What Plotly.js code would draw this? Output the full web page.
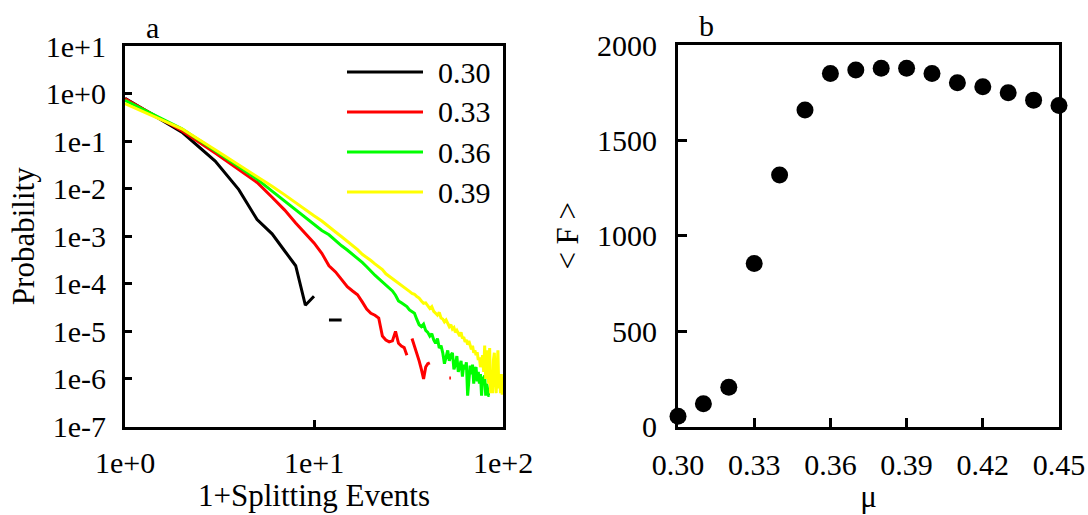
<!DOCTYPE html>
<html><head><meta charset="utf-8">
<script src="https://cdn.plot.ly/plotly-3.0.1.min.js"></script>
<style>html,body{margin:0;padding:0;background:#fff}#chart{width:1088px;height:515px}</style>
</head><body><div id="chart"></div>
<script>
// ---- Panel a: probability vs 1+splitting events (values stored as log10 of probability) ----
const seriesNames = ['0.30', '0.33', '0.36', '0.39'];
const seriesColors = ['#000000', '#ff0000', '#00ff00', '#ffff00'];

const logP_030 = [-0.10,-0.81,-1.42,-2.02,-2.65,-2.95,-3.31,-3.62,-4.45,-4.26,
  null,-4.76,-4.76,-4.76];

const logP_033 = [-0.11,-0.78,-1.25,-1.60,-1.87,-2.18,-2.45,-2.72,-2.95,-3.14,
  -3.36,-3.62,-3.75,-3.91,-4.06,-4.15,-4.23,-4.38,-4.53,-4.62,
  -4.66,-4.72,-5.10,-5.18,-5.22,-5.20,-5.00,-5.25,-5.31,-5.34,
  -5.50,null,-5.15,-5.30,-5.45,-5.62,-5.80,-6.00,-5.75,-5.68,
  -5.66,null,null,null,null,null,null,null,null,null,
  null,-5.98,-5.98];

const logP_036 = [-0.14,-0.74,-1.20,-1.53,-1.80,-2.05,-2.26,-2.45,-2.61,-2.75,
  -2.88,-2.97,-3.10,-3.20,-3.29,-3.38,-3.46,-3.55,-3.64,-3.74,
  -3.82,-3.89,-3.96,-4.02,-4.09,-4.15,-4.24,-4.36,-4.40,-4.45,
  -4.48,-4.55,-4.58,-4.62,-4.75,-4.86,-4.90,-4.85,-4.98,-5.02,
  -5.10,-5.05,-5.18,-5.25,-5.15,-5.35,-5.30,-5.45,-5.68,-5.50,
  -5.40,-5.62,-5.50,-5.45,-5.80,-5.70,-5.52,-5.85,-5.75,-5.62,
  -5.95,-5.70,-5.80,-5.65,-6.35,-6.02,-5.72,-5.90,-5.70,-6.10,
  -5.80,-5.75,-6.05,-5.85,-6.10,-5.90,-6.35,-5.95,-6.10,-5.92,
  -6.35,-6.10,-6.30,-6.35,-6.35];

const logP_039 = [-0.21,-0.74,-1.18,-1.50,-1.73,-1.95,-2.13,-2.30,-2.44,-2.57,
  -2.68,-2.79,-2.91,-3.01,-3.10,-3.19,-3.28,-3.38,-3.44,-3.51,
  -3.58,-3.64,-3.70,-3.79,-3.84,-3.89,-3.94,-3.98,-4.03,-4.07,
  -4.11,-4.16,-4.20,-4.22,-4.27,-4.30,-4.36,-4.41,-4.40,-4.47,
  -4.52,-4.48,-4.58,-4.62,-4.66,-4.60,-4.72,-4.74,-4.80,-4.76,
  -4.85,-4.90,-4.86,-4.95,-4.92,-5.02,-4.98,-5.05,-5.10,-5.02,
  -5.15,-5.12,-5.22,-5.18,-5.28,-5.20,-5.32,-5.38,-5.30,-5.45,
  -5.40,-5.50,-5.44,-5.60,-5.55,-5.75,-5.65,-5.50,-5.85,-5.30,
  -6.00,-5.40,-5.80,-6.10,-5.35,-6.30,-6.00,-6.30,-5.60,-5.45,
  -6.00,-6.30,-5.80,-5.40,-6.20,-6.00,-6.30,-5.90,-6.30,-6.30];

const xTickVals = [1, 10, 100];
const xTickText = ['1e+0', '1e+1', '1e+2'];
const yTickVals = [1e-7, 1e-6, 1e-5, 1e-4, 1e-3, 1e-2, 1e-1, 1, 10];
const yTickText = ['1e-7', '1e-6', '1e-5', '1e-4', '1e-3', '1e-2', '1e-1', '1e+0', '1e+1'];

// ---- Panel b: <F> vs mu ----
const mu = [0.30,0.31,0.32,0.33,0.34,0.35,0.36,0.37,0.38,0.39,0.40,0.41,0.42,0.43,0.44,0.45];
const meanF = [54,119,206,854,1318,1659,1851,1869,1878,1878,1851,1802,1781,1750,1711,1683];
const muTickVals = [0.30, 0.33, 0.36, 0.39, 0.42, 0.45];
const muTickText = ['0.30', '0.33', '0.36', '0.39', '0.42', '0.45'];
const fTickVals = [0, 500, 1000, 1500, 2000];

const FONT = '"Liberation Serif", "Times New Roman", Times, serif';
const FS = 30;
const TS = 31;
const W = 1088, H = 515;
const px = v => v / W, py = v => 1 - v / H;

const logSeries = [logP_030, logP_033, logP_036, logP_039];
const traces = logSeries.map((arr, k) => ({
  type: 'scatter', mode: 'lines',
  x: arr.map((_, i) => i + 1),
  y: arr.map(v => v === null ? null : Math.pow(10, v)),
  name: seriesNames[k],
  line: {color: seriesColors[k], width: 3},
  connectgaps: false,
  xaxis: 'x', yaxis: 'y', showlegend: false
}));
traces.push({
  type: 'scatter', mode: 'markers', x: mu, y: meanF,
  marker: {color: '#000', size: 17},
  cliponaxis: false, xaxis: 'x2', yaxis: 'y2', showlegend: false
});

const axisCommon = {
  showline: true, mirror: true, linecolor: '#000', linewidth: 3,
  ticks: 'inside', ticklen: 7, tickwidth: 3, tickcolor: '#000',
  showgrid: false, zeroline: false, automargin: false,
  tickfont: {family: FONT, size: FS, color: '#000'}
};

// legend drawn as shapes + text
const legendY = [72, 112, 152, 192];
const shapes = seriesNames.map((n, k) => ({
  type: 'line', xref: 'paper', yref: 'paper',
  x0: px(347), x1: px(423), y0: py(legendY[k]), y1: py(legendY[k]),
  line: {color: seriesColors[k], width: 3}
}));
const annotations = seriesNames.map((n, k) => ({
  xref: 'paper', yref: 'paper', x: px(436), y: py(legendY[k]),
  xanchor: 'left', yanchor: 'middle', text: n, showarrow: false,
  font: {family: FONT, size: FS, color: '#000'}
}));
annotations.push({xref: 'paper', yref: 'paper', x: px(152), y: py(27), text: 'a',
  showarrow: false, xanchor: 'center', yanchor: 'middle', font: {family: FONT, size: 30, color: '#000'}});
annotations.push({xref: 'paper', yref: 'paper', x: px(706), y: py(26), text: 'b',
  showarrow: false, xanchor: 'center', yanchor: 'middle', font: {family: FONT, size: 30, color: '#000'}});

const layout = {
  width: W, height: H,
  margin: {l: 0, r: 0, t: 0, b: 0},
  paper_bgcolor: '#fff', plot_bgcolor: '#fff',
  font: {family: FONT, color: '#000'},
  showlegend: false,
  xaxis: Object.assign({}, axisCommon, {
    type: 'log', range: [0, 2], domain: [px(125), px(503)], anchor: 'y',
    tickvals: xTickVals, ticktext: xTickText, ticklabelstandoff: 7,
    title: {text: '1+Splitting Events', font: {family: FONT, size: TS, color: '#000'}, standoff: 0}
  }),
  yaxis: Object.assign({}, axisCommon, {
    type: 'log', range: [-7, 1], domain: [1 - 426.5 / H, 1 - 46 / H], anchor: 'x',
    tickvals: yTickVals, ticktext: yTickText, ticklabelstandoff: 10,
    title: {text: 'Probability', font: {family: FONT, size: TS, color: '#000'}, standoff: 2}
  }),
  xaxis2: Object.assign({}, axisCommon, {
    range: [0.30, 0.45], domain: [px(678), px(1059)], anchor: 'y2',
    tickvals: muTickVals, ticktext: muTickText, ticklen: 9, ticklabelstandoff: 9,
    title: {text: 'μ', font: {family: FONT, size: TS, color: '#000'}, standoff: 6}
  }),
  yaxis2: Object.assign({}, axisCommon, {
    range: [0, 2000], domain: [1 - 426.5 / H, 1 - 45 / H], anchor: 'x2',
    tickvals: fTickVals, ticklen: 9, ticklabelstandoff: 12,
    title: {text: '< F >', font: {family: FONT, size: TS, color: '#000'}, standoff: 10}
  }),
  shapes: shapes,
  annotations: annotations
};

Plotly.newPlot('chart', traces, layout, {staticPlot: true, displayModeBar: false});
</script></body></html>
